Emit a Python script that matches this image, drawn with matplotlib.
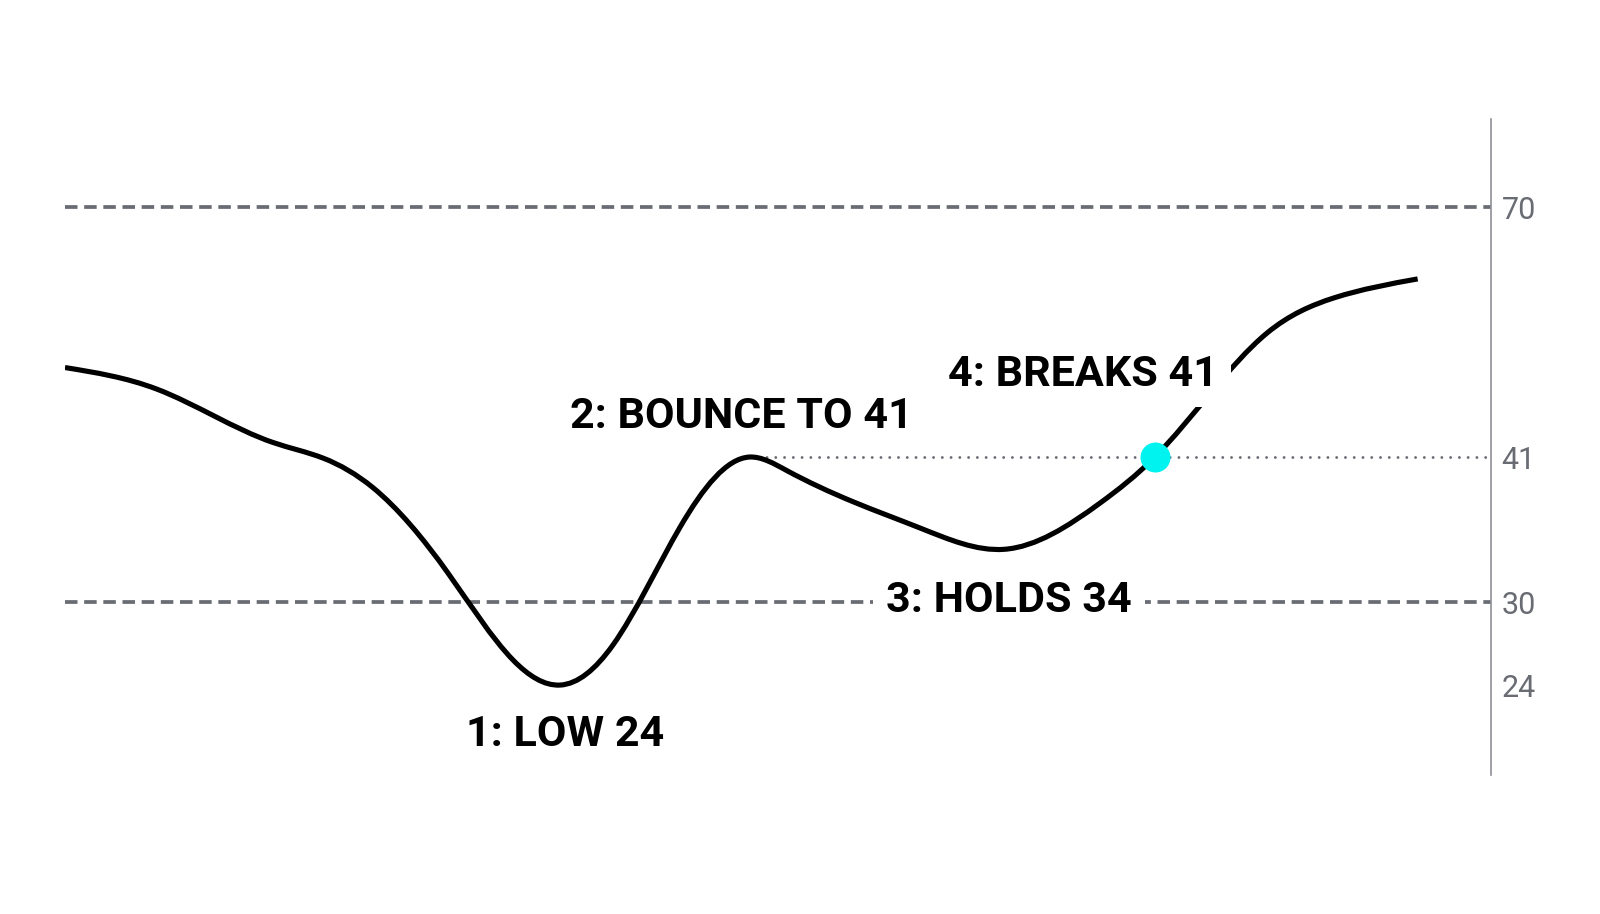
import numpy as np
from matplotlib import pyplot as plt
from matplotlib.path import Path
from matplotlib.patches import PathPatch

# bar index along the chart and the oscillator reading at each one
session = [0.0, 4.5, 10.2, 12.7, 15.1, 18.8, 22.0, 24.3, 26.9, 30.2,
           33.6, 35.4, 38.7, 42.0, 46.1, 50.8, 53.5, 59.0, 62.3, 66.4]
rsi = [51.4, 48.9, 42.7, 40.9, 38.7, 32.2, 25.8, 24.0, 26.9, 35.7,
       41.0, 40.0, 37.6, 35.6, 34.0, 37.5, 41.0, 55.4, 59.5, 61.7]

levels = [24, 30, 41, 70]
level_labels = ["24", "30", "41", "70"]
bands = [30, 70]
breakout_level = 41

low_idx, peak_idx, hold_idx, break_idx = 7, 10, 14, 16
callouts = ["1: LOW 24", "2: BOUNCE TO 41", "3: HOLDS 34", "4: BREAKS 41"]

# the value axis is stretched unevenly: value -> screen pixel anchors
SCALE_VALUES = [0, 24, 30, 41, 70, 100]
SCALE_PIXELS = np.array([1017, 685, 602, 457, 207.5, -50])

GREY = "#696c73"


def forward(v):
    return np.interp(v, SCALE_VALUES, -SCALE_PIXELS)


def inverse(p):
    return np.interp(p, -SCALE_PIXELS, SCALE_VALUES)


def spline_path(x, y):
    """Natural cubic spline through the points as Bezier segments,
    built in scaled space and mapped back to data values."""
    x = np.asarray(x, float)
    y = forward(np.asarray(y, float))
    n = len(x)
    h = np.diff(x)
    s = np.diff(y) / h

    # second derivatives, natural ends
    A = np.zeros((n, n))
    b = np.zeros(n)
    A[0, 0] = A[-1, -1] = 1
    for i in range(1, n - 1):
        A[i, i - 1] = h[i - 1]
        A[i, i] = 2 * (h[i - 1] + h[i])
        A[i, i + 1] = h[i]
        b[i] = 6 * (s[i] - s[i - 1])
    M = np.linalg.solve(A, b)

    d = np.zeros(n)
    d[:-1] = s - h * (2 * M[:-1] + M[1:]) / 6
    d[-1] = s[-1] + h[-1] * (M[-2] + 2 * M[-1]) / 6

    verts = [(x[0], y[0])]
    codes = [Path.MOVETO]
    for i in range(n - 1):
        dx = h[i] / 3
        verts += [(x[i] + dx, y[i] + dx * d[i]),
                  (x[i + 1] - dx, y[i + 1] - dx * d[i + 1]),
                  (x[i + 1], y[i + 1])]
        codes += [Path.CURVE4] * 3
    verts = np.array(verts)
    verts[:, 1] = inverse(verts[:, 1])
    return Path(verts, codes)


plt.rcParams["font.family"] = ["Roboto", "DejaVu Sans"]
plt.rcParams["lines.scale_dashes"] = False

fig = plt.figure(figsize=(16, 9.14), dpi=100)
ax = fig.add_axes([65 / 1600, 1 - 775 / 914, (1491 - 65) / 1600, (775 - 119.5) / 914])

ax.set_yscale("function", functions=(forward, inverse))
ax.set_xlim(0, 70)
ax.set_ylim(17.5, 80.25)

for level in bands:
    ax.axhline(level, color=GREY, lw=2.7, dashes=(9.0, 4.8), zorder=1)

ax.plot([session[peak_idx], 70], [breakout_level, breakout_level], color=GREY,
        lw=2.1, dashes=(0.01, 6.3), dash_capstyle="round", zorder=1)

ax.add_patch(PathPatch(spline_path(session, rsi), fill=False, ec="black",
                       lw=3.7, capstyle="butt", joinstyle="round", zorder=2))

ax.plot(session[break_idx], rsi[break_idx], "o", color="#00f3ef", ms=21.6,
        mec="none", zorder=4)

offsets = [(5, -49), (-8, 41), (5, -51), (-72, 83)]
for text, idx, (dx, dy) in zip(callouts, [low_idx, peak_idx, hold_idx, break_idx], offsets):
    ax.annotate(text, xy=(session[idx], rsi[idx]), xytext=(dx, dy),
                textcoords="offset pixels", ha="center", va="center",
                fontsize=31, fontweight="bold", color="black", zorder=3,
                bbox=dict(boxstyle="square,pad=0.3", fc="white", ec="none"))

ax.yaxis.tick_right()
ax.set_yticks(levels)
ax.set_yticklabels(level_labels)
ax.set_xticks([])
ax.tick_params(axis="y", length=0, pad=7.5, labelsize=22, labelcolor=GREY)
ax.minorticks_off()

for side in ["top", "left", "bottom"]:
    ax.spines[side].set_visible(False)
ax.spines["right"].set_color("#8d9096")
ax.spines["right"].set_linewidth(1.2)

fig.savefig("out.png", dpi=100, facecolor="white")
